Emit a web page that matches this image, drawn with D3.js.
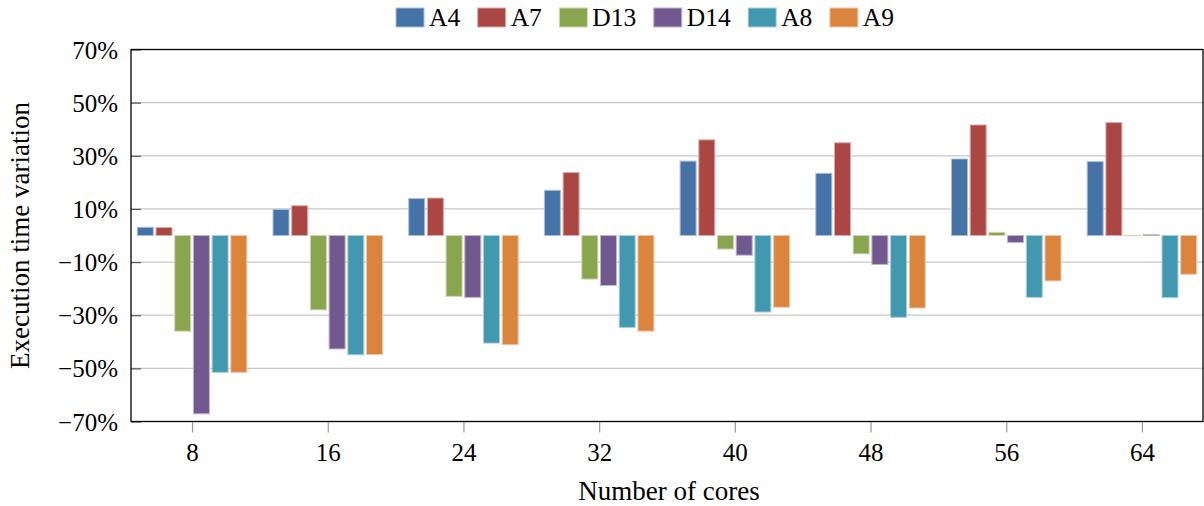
<!DOCTYPE html>
<html>
<head>
<meta charset="utf-8">
<script src="https://cdn.jsdelivr.net/npm/d3@7"></script>
<style>
  body { margin: 0; background: #fff; }
  svg text { font-family: "Liberation Serif", "Times New Roman", serif; fill: #000; }
</style>
</head>
<body>
<svg id="chart" width="1204" height="506"></svg>
<script>
// categories (number of cores)
const cores = [8, 16, 24, 32, 40, 48, 56, 64];
const seriesNames = ["A4", "A7", "D13", "D14", "A8", "A9"];

// execution time variation in %, one array per series
const A4  = [3.1, 9.8, 13.9, 17.0, 28.0, 23.4, 28.8, 27.8];
const A7  = [3.0, 11.2, 14.1, 23.7, 36.0, 34.9, 41.6, 42.5];
const D13 = [-36.0, -28.0, -22.9, -16.4, -5.1, -6.9, 1.2, 0.05];
const D14 = [-67.1, -42.7, -23.3, -18.8, -7.4, -10.9, -2.6, 0.3];
const A8  = [-51.5, -44.9, -40.5, -34.6, -28.8, -30.8, -23.3, -23.4];
const A9  = [-51.5, -44.8, -41.1, -36.0, -27.0, -27.3, -17.1, -14.6];

const yTicks = [-70, -50, -30, -10, 10, 30, 50, 70];

const colors = {
    "A4": "#4572a7",
    "A7": "#aa4643",
    "D13": "#89a54e",
    "D14": "#71588f",
    "A8": "#4198af",
    "A9": "#db843d"
};

const seriesValues = { A4, A7, D13, D14, A8, A9 };

function drawChart() {
    const svg = d3.select("#chart");
    const margin = { left: 131, right: 1203, top: 49.5, bottom: 421.5 };

    const x = d3.scaleLinear().domain([4.4, 67.6]).range([margin.left, margin.right]);
    const y = d3.scaleLinear().domain([-70, 70]).range([margin.bottom, margin.top]);

    const barStep = 18.7, barWidth = 16;

    // horizontal grid
    svg.append("g").selectAll("line")
        .data(yTicks)
        .enter().append("line")
        .attr("x1", margin.left).attr("x2", margin.right)
        .attr("y1", d => y(d)).attr("y2", d => y(d))
        .attr("stroke", "#c8c8c8").attr("stroke-width", 1.2);

    // bars
    seriesNames.forEach((name, i) => {
        const vals = seriesValues[name];
        const fill = colors[name];
        const edge = d3.interpolateRgb(fill, "#ffffff")(0.55);
        svg.append("g").selectAll("rect")
            .data(vals)
            .enter().append("rect")
            .attr("x", (d, j) => x(cores[j]) + (i - 2.5) * barStep - barWidth / 2)
            .attr("width", barWidth)
            .attr("y", d => Math.min(y(d), y(0)))
            .attr("height", d => Math.max(0.3, Math.abs(y(d) - y(0))))
            .attr("fill", fill)
            .attr("stroke", edge)
            .attr("stroke-width", 1);
    });

    // y axis ticks (inside) and labels
    const yAxis = svg.append("g")
        .attr("transform", `translate(${margin.left},0)`)
        .call(d3.axisLeft(y).tickValues(yTicks).tickSize(-10).tickPadding(14)
            .tickFormat(d => (d < 0 ? "\u2212" + Math.abs(d) : d) + "%"));
    yAxis.select(".domain").remove();
    yAxis.selectAll(".tick line").attr("stroke", "#555").attr("stroke-width", 1.2);
    yAxis.selectAll(".tick text").attr("font-size", 25).attr("dy", "0.34em").attr("x", -13);

    // x axis ticks (outside, below) and labels
    const xAxis = svg.append("g")
        .attr("transform", `translate(0,${margin.bottom})`)
        .call(d3.axisBottom(x).tickValues(cores).tickSize(11).tickPadding(10));
    xAxis.select(".domain").remove();
    xAxis.selectAll(".tick line").attr("stroke", "#999").attr("stroke-width", 1.2);
    xAxis.selectAll(".tick text").attr("font-size", 25).attr("dy", "0.72em");

    // frame
    svg.append("rect")
        .attr("x", margin.left).attr("y", margin.top)
        .attr("width", margin.right - margin.left)
        .attr("height", margin.bottom - margin.top)
        .attr("fill", "none").attr("stroke", "#000").attr("stroke-width", 1.3);

    // axis titles
    svg.append("text")
        .attr("x", (margin.left + margin.right) / 2 + 2)
        .attr("y", 500)
        .attr("text-anchor", "middle")
        .attr("font-size", 27)
        .text("Number of cores");

    svg.append("text")
        .attr("transform", `translate(29,${(margin.top + margin.bottom) / 2}) rotate(-90)`)
        .attr("text-anchor", "middle")
        .attr("font-size", 27)
        .text("Execution time variation");

    // legend
    const legend = svg.append("g");
    let lx = 396;
    seriesNames.forEach(name => {
        const item = legend.append("g").attr("transform", `translate(${lx},0)`);
        item.append("rect")
            .attr("x", 0).attr("y", 8)
            .attr("width", 28).attr("height", 19)
            .attr("fill", colors[name])
            .attr("stroke", d3.interpolateRgb(colors[name], "#ffffff")(0.55))
            .attr("stroke-width", 1);
        const t = item.append("text")
            .attr("x", 33).attr("y", 26)
            .attr("font-size", 25.5)
            .text(name);
        lx += 33 + t.node().getComputedTextLength() + 17.5;
    });
}

window.onload = drawChart;
</script>
</body>
</html>
